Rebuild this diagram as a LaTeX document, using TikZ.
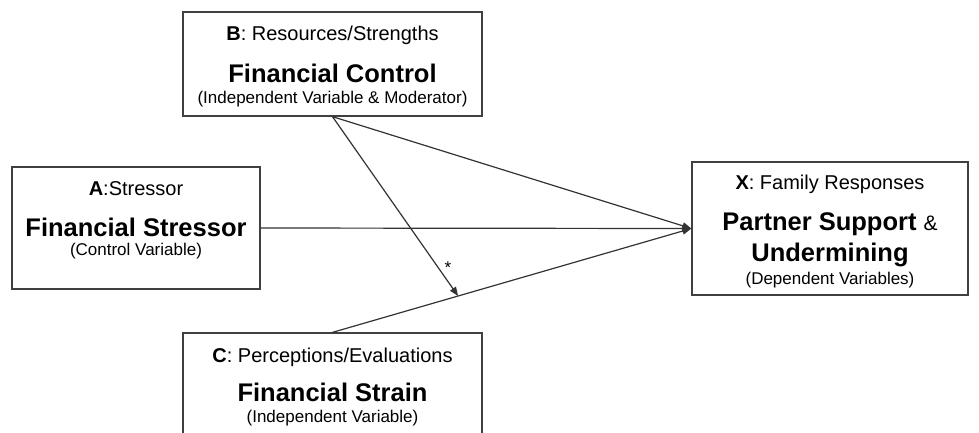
\documentclass[tikz,border=0pt]{standalone}
\usepackage{fontspec}
\setmainfont{Liberation Sans}
\usetikzlibrary{arrows.meta}
\definecolor{boxgray}{HTML}{404040}
\definecolor{linegray}{HTML}{333333}
\tikzset{
  box/.style={draw=boxgray, line width=1.3pt, rectangle, inner sep=0pt, fill=white},
  hdr/.style={font=\fontsize{20}{24}\selectfont, inner sep=0pt, anchor=base},
  ttl/.style={font=\fontsize{25.5}{30}\selectfont\bfseries, inner sep=0pt, anchor=base, text depth=0pt},
  sub/.style={font=\fontsize{17}{20}\selectfont, inner sep=0pt, anchor=base, text height=9pt},
  conn/.style={draw=linegray, line width=1.2pt, -{Triangle[length=9pt,width=7pt]}},
}
\begin{document}
\begin{tikzpicture}[x=1pt,y=-1pt]
\useasboundingbox (0,0) rectangle (979,432);
\clip (0,0) rectangle (979,432);
% boxes
\node[box, minimum width=299pt, minimum height=104pt] (B) at (332.5,64) {};
\node[box, minimum width=248pt, minimum height=122pt] (A) at (136,228) {};
\node[box, minimum width=276pt, minimum height=133pt] (X) at (830,228.5) {};
\node[box, minimum width=299pt, minimum height=120pt] (C) at (332.5,393) {};
% texts B
\node[hdr] (Bh) at (332.5,40) {\textbf{B}: Resources/Strengths};
\node[ttl] (Bt) at (332.5,82) {Financial Control};
\node[sub] (Bs) at (332.5,103) {(Independent Variable \& Moderator)};
% texts A
\node[hdr] (Ah) at (136,195) {\textbf{A}:Stressor};
\node[ttl] (At) at (136,236) {Financial Stressor};
\node[sub] (As) at (136,255) {(Control Variable)};
% texts X
\node[hdr] (Xh) at (830,189) {\textbf{X}: Family Responses};
\node[ttl] (Xt1) at (830,230) {Partner Support {\mdseries\fontsize{21}{24}\selectfont\&}};
\node[ttl] (Xt2) at (830,261.5) {Undermining};
\node[sub] (Xs) at (830,284) {(Dependent Variables)};
% texts C
\node[hdr] (Ch) at (332.5,362.5) {\textbf{C}: Perceptions/Evaluations};
\node[ttl] (Ct) at (332.5,401.5) {Financial Strain};
\node[sub] (Cs) at (332.5,422) {(Independent Variable)};
% connectors
\path (C.north) -- (X.west) coordinate[pos=0.35] (m);
\draw[conn] (A.east) -- (X.west);
\draw[conn] (B.south) -- (X.west);
\draw[conn] (C.north) -- (X.west);
\draw[conn] (B.south) -- node[pos=0.84, right=6pt, font=\fontsize{17}{20}\selectfont, inner sep=0pt] (star) {*} (m);
\end{tikzpicture}
\end{document}
